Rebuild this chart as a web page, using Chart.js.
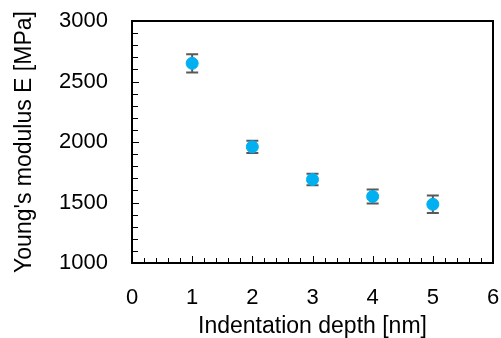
<!DOCTYPE html>
<html>
<head>
<meta charset="utf-8">
<script src="https://cdn.jsdelivr.net/npm/chart.js@4"></script>
<style>
  html, body { margin: 0; padding: 0; background: #fff; }
  #wrap { width: 501px; height: 338px; }
</style>
</head>
<body>
<div id="wrap"><canvas id="chart"></canvas></div>
<script>
const depths = [1, 2, 3, 4, 5];
const modulus = [2650, 1960, 1690, 1550, 1485];
const modulusErr = [75, 50, 48, 58, 72];
const xTicks = [0, 1, 2, 3, 4, 5, 6];
const yTicks = [1000, 1500, 2000, 2500, 3000];

const fontFamily = '"Liberation Sans", Arial, sans-serif';
const axisColor = '#000';

// error bars + inward ticks + frame, all through the chart's scales
const decorations = {
  id: 'decorations',
  beforeDatasetsDraw(chart) {
    const { ctx, chartArea: a, scales: { x, y } } = chart;
    ctx.save();
    ctx.strokeStyle = axisColor;
    ctx.lineWidth = 1;
    // minor ticks on x every 0.2, major at integers
    for (let i = 0; i <= 30; i++) {
      const px = Math.round(x.getPixelForValue(i * 0.2)) + 0.5;
      const len = i % 5 === 0 ? 7 : 5;
      ctx.beginPath();
      ctx.moveTo(px, a.bottom);
      ctx.lineTo(px, a.bottom - len);
      ctx.stroke();
    }
    // minor ticks on y every 100
    for (let v = 1000; v <= 3000; v += 100) {
      const py = Math.round(y.getPixelForValue(v)) + 0.5;
      const len = v % 500 === 0 ? 7 : 6;
      ctx.beginPath();
      ctx.moveTo(a.left, py);
      ctx.lineTo(a.left + len, py);
      ctx.stroke();
    }
    ctx.lineWidth = 2;
    ctx.strokeRect(a.left, a.top, a.right - a.left, a.bottom - a.top);

    // error bars
    ctx.strokeStyle = '#595959';
    ctx.lineWidth = 2;
    depths.forEach((d, i) => {
      const px = x.getPixelForValue(d);
      const top = y.getPixelForValue(modulus[i] + modulusErr[i]);
      const bot = y.getPixelForValue(modulus[i] - modulusErr[i]);
      ctx.beginPath();
      ctx.moveTo(px, top); ctx.lineTo(px, bot);
      ctx.moveTo(px - 6, top); ctx.lineTo(px + 6, top);
      ctx.moveTo(px - 6, bot); ctx.lineTo(px + 6, bot);
      ctx.stroke();
    });
    ctx.restore();
  }
};

new Chart(document.getElementById('chart'), {
  type: 'scatter',
  data: {
    datasets: [{
      label: 'E',
      data: depths.map((d, i) => ({ x: d, y: modulus[i] })),
      backgroundColor: '#00B0F0',
      borderColor: '#00B0F0',
      pointRadius: 6,
      pointHoverRadius: 6
    }]
  },
  options: {
    responsive: true,
    maintainAspectRatio: false,
    animation: false,
    events: [],
    layout: { padding: { top: 21, right: 8, left: 0, bottom: 0 } },
    plugins: { legend: { display: false }, tooltip: { enabled: false } },
    scales: {
      x: {
        type: 'linear',
        min: 0, max: 6,
        afterBuildTicks: s => { s.ticks = xTicks.map(v => ({ value: v })); },
        afterFit: s => { s.height = 75; s.paddingLeft = 0; s.paddingRight = 0; },
        grid: { display: false, drawTicks: false },
        border: { display: false },
        ticks: { color: axisColor, font: { family: fontFamily, size: 22 }, padding: 22, maxRotation: 0, callback: v => String(v) },
        title: { display: true, text: 'Indentation depth [nm]', color: axisColor, font: { family: fontFamily, size: 23, lineHeight: 1 }, padding: { top: 0, bottom: 0 } }
      },
      y: {
        type: 'linear',
        min: 1000, max: 3000,
        afterBuildTicks: s => { s.ticks = yTicks.map(v => ({ value: v })); },
        afterFit: s => { s.width = 132; s.paddingTop = 0; s.paddingBottom = 0; },
        grid: { display: false, drawTicks: false },
        border: { display: false },
        ticks: { color: axisColor, font: { family: fontFamily, size: 22 }, padding: 24, callback: v => String(v) },
        title: { display: true, text: "Young's modulus E [MPa]", color: axisColor, font: { family: fontFamily, size: 23, lineHeight: 1 }, padding: { top: 13, bottom: 0 } }
      }
    }
  },
  plugins: [decorations]
});
</script>
</body>
</html>
